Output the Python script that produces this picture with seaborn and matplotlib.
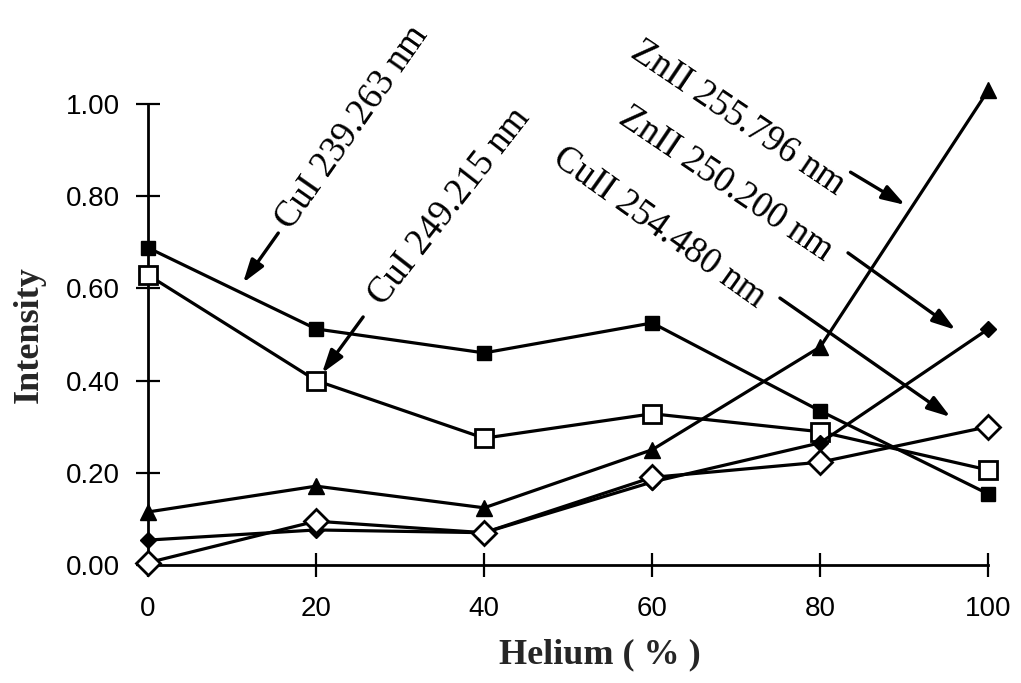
import matplotlib
matplotlib.use("Agg")
import matplotlib.pyplot as plt
import seaborn as sns
import pandas as pd

# Helium fraction in the plasma gas (%)
helium = [0, 20, 40, 60, 80, 100]

# Normalised emission intensities for each line
cu_i_239 = [0.688, 0.512, 0.460, 0.525, 0.334, 0.154]
cu_i_249 = [0.629, 0.400, 0.275, 0.328, 0.289, 0.206]
zn_ii_255 = [0.115, 0.171, 0.124, 0.250, 0.473, 1.030]
zn_ii_250 = [0.054, 0.076, 0.070, 0.180, 0.265, 0.512]
cu_ii_254 = [0.005, 0.095, 0.070, 0.190, 0.223, 0.300]

series_names = ["CuI 239.263 nm", "CuI 249.215 nm", "ZnII 255.796 nm",
                "ZnII 250.200 nm", "CuII 254.480 nm"]
series_values = [cu_i_239, cu_i_249, zn_ii_255, zn_ii_250, cu_ii_254]

x_ticks = [0, 20, 40, 60, 80, 100]
y_ticks = [0.0, 0.2, 0.4, 0.6, 0.8, 1.0]
y_tick_labels = ["0.00", "0.20", "0.40", "0.60", "0.80", "1.00"]

df = pd.DataFrame({
    "Helium": helium * len(series_names),
    "Intensity": [v for vals in series_values for v in vals],
    "Line": [n for n in series_names for _ in helium],
})

sns.set_style("ticks")
plt.rcParams["font.family"] = ["Liberation Sans", "DejaVu Sans"]

fig = plt.figure(figsize=(10.21, 6.83), dpi=100)
ax = fig.add_axes([0.145, 0.1728, 0.823, 0.675])

styles = {
    "CuI 239.263 nm": dict(marker="s", ms=9.5, mfc="black", mew=1.0),
    "CuI 249.215 nm": dict(marker="s", ms=13, mfc="white", mew=2.0),
    "ZnII 255.796 nm": dict(marker="^", ms=11, mfc="black", mew=1.0),
    "ZnII 250.200 nm": dict(marker="D", ms=8, mfc="black", mew=1.0),
    "CuII 254.480 nm": dict(marker="D", ms=12.5, mfc="white", mew=2.0),
}

for name in series_names:
    sub = df[df["Line"] == name]
    st = styles[name]
    sns.lineplot(data=sub, x="Helium", y="Intensity", ax=ax, color="black",
                 lw=2.3, marker=st["marker"], markersize=st["ms"],
                 markerfacecolor=st["mfc"], markeredgecolor="black",
                 markeredgewidth=st["mew"], clip_on=False, zorder=3)

ax.set_xlim(0, 100)
ax.set_ylim(0, 1.0)
ax.set_xticks(x_ticks)
ax.set_yticks(y_ticks)
ax.set_yticklabels(y_tick_labels)
ax.tick_params(direction="inout", length=17, width=1.6, labelsize=20,
               colors="black")
ax.tick_params(axis="y", pad=12)
ax.tick_params(axis="x", pad=14)
for s in ("top", "right"):
    ax.spines[s].set_visible(False)
for s in ("left", "bottom"):
    ax.spines[s].set_linewidth(2.0)
    ax.spines[s].set_color("black")

label_font = dict(family=["Liberation Serif", "DejaVu Serif"],
                  fontweight="bold", fontsize=26)
ax.set_xlabel("Helium ( % )", **label_font)
ax.set_ylabel("Intensity", **label_font)
ax.xaxis.set_label_coords(0.538, -0.16)
ax.yaxis.set_label_coords(-0.122, 0.5)

# Labels for the individual emission lines, with arrows to their curves
ann_font = dict(family=["Liberation Serif", "DejaVu Serif"], fontsize=26.5,
                rotation_mode="anchor", ha="left", va="baseline",
                color="black")
texts = [
    ("CuI 239.263 nm", 17.0, 0.725, 55),
    ("CuI 249.215 nm", 28.0, 0.560, 52),
    ("ZnII 255.796 nm", 57.2, 1.105, -34),
    ("ZnII 250.200 nm", 55.8, 0.960, -34),
    ("CuII 254.480 nm", 48.0, 0.875, -35.5),
]
for txt, tx, ty, rot in texts:
    ax.text(tx, ty, txt, rotation=rot, clip_on=False, **ann_font)

arrows = [
    ((15.5, 0.720), (11.3, 0.612)),
    ((25.6, 0.538), (20.7, 0.416)),
    ((83.6, 0.852), (90.1, 0.781)),
    ((83.3, 0.677), (96.1, 0.510)),
    ((75.2, 0.579), (95.5, 0.321)),
]
for start, end in arrows:
    ax.annotate("", xy=end, xytext=start, annotation_clip=False,
                arrowprops=dict(arrowstyle="-|>,head_length=1.4,head_width=0.45",
                                color="black", lw=2.4, shrinkA=0, shrinkB=0))

fig.savefig("out.png", dpi=100)
